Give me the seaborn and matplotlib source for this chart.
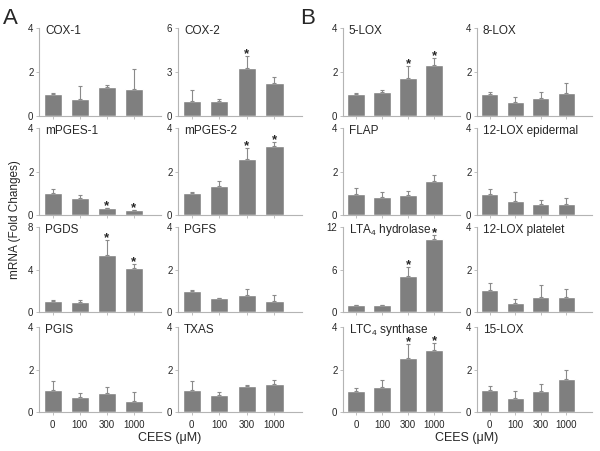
import numpy as np
import pandas as pd
import matplotlib
matplotlib.use("Agg")
import matplotlib.pyplot as plt
import seaborn as sns

# doses on the x axis
doses = ["0", "100", "300", "1000"]

# panel A
cox1 = [1.00, 0.75, 1.32, 1.23]
cox1_err = [0.03, 0.63, 0.10, 0.91]
cox2 = [1.01, 1.01, 3.29, 2.25]
cox2_err = [0.79, 0.12, 0.81, 0.41]
mpges1 = [1.01, 0.78, 0.31, 0.23]
mpges1_err = [0.20, 0.15, 0.03, 0.02]
mpges2 = [1.01, 1.35, 2.57, 3.17]
mpges2_err = [0.06, 0.23, 0.50, 0.17]
pgds = [1.04, 0.94, 5.40, 4.10]
pgds_err = [0.09, 0.19, 1.40, 0.42]
pgfs = [1.01, 0.67, 0.81, 0.53]
pgfs_err = [0.04, 0.01, 0.28, 0.28]
pgis = [1.02, 0.71, 0.90, 0.54]
pgis_err = [0.44, 0.19, 0.26, 0.42]
txas = [1.02, 0.79, 1.22, 1.30]
txas_err = [0.44, 0.16, 0.04, 0.20]

# panel B
lox5 = [0.99, 1.10, 1.74, 2.32]
lox5_err = [0.06, 0.10, 0.54, 0.33]
lox8 = [0.99, 0.64, 0.82, 1.05]
lox8_err = [0.12, 0.23, 0.29, 0.45]
flap = [0.98, 0.82, 0.93, 1.56]
flap_err = [0.26, 0.24, 0.19, 0.29]
lox12e = [0.98, 0.65, 0.51, 0.51]
lox12e_err = [0.23, 0.40, 0.19, 0.27]
lta4h = [0.95, 1.00, 5.10, 10.30]
lta4h_err = [0.09, 0.05, 1.20, 0.57]
lox12p = [1.02, 0.44, 0.72, 0.69]
lox12p_err = [0.34, 0.15, 0.56, 0.37]
ltc4s = [0.99, 1.18, 2.52, 2.94]
ltc4s_err = [0.14, 0.32, 0.66, 0.32]
lox15 = [1.04, 0.68, 1.00, 1.57]
lox15_err = [0.17, 0.32, 0.31, 0.43]

# (name, values, errors, ymax, significant bars)
panels = [
    [("COX-1", cox1, cox1_err, 4, []), ("COX-2", cox2, cox2_err, 6, [2]),
     ("5-LOX", lox5, lox5_err, 4, [2, 3]), ("8-LOX", lox8, lox8_err, 4, [])],
    [("mPGES-1", mpges1, mpges1_err, 4, [2, 3]), ("mPGES-2", mpges2, mpges2_err, 4, [2, 3]),
     ("FLAP", flap, flap_err, 4, []), ("12-LOX epidermal", lox12e, lox12e_err, 4, [])],
    [("PGDS", pgds, pgds_err, 8, [2, 3]), ("PGFS", pgfs, pgfs_err, 4, []),
     ("LTA$_4$ hydrolase", lta4h, lta4h_err, 12, [2, 3]), ("12-LOX platelet", lox12p, lox12p_err, 4, [])],
    [("PGIS", pgis, pgis_err, 4, []), ("TXAS", txas, txas_err, 4, []),
     ("LTC$_4$ synthase", ltc4s, ltc4s_err, 4, [2, 3]), ("15-LOX", lox15, lox15_err, 4, [])],
]

sns.set_style("white")
plt.rcParams["font.family"] = ["Liberation Sans", "DejaVu Sans"]
plt.rcParams["mathtext.fontset"] = "custom"
plt.rcParams["mathtext.rm"] = "Liberation Sans"
plt.rcParams["mathtext.it"] = "Liberation Sans"

W, H = 600, 451
fig = plt.figure(figsize=(6, 4.51), dpi=100)

col_x = [(39, 161), (178, 302), (343, 460), (477, 592)]
row_y = [(28, 116), (128, 215), (227, 312), (327, 412)]
bar_color = "#7f7f7f"
line_color = "#b4b4b4"

for r, row in enumerate(panels):
    for c, (name, vals, errs, ymax, sig) in enumerate(row):
        x0, x1 = col_x[c]
        y0, y1 = row_y[r]
        ax = fig.add_axes([x0 / W, 1 - y1 / H, (x1 - x0) / W, (y1 - y0) / H])
        df = pd.DataFrame({"dose": doses, "value": vals})
        sns.barplot(data=df, x="dose", y="value", color=bar_color, width=0.66,
                    saturation=1, errorbar=None, ax=ax)
        pos = np.arange(len(doses))
        ax.errorbar(pos, vals, yerr=[np.zeros(len(errs)), errs], fmt="none",
                    ecolor="#8a8a8a", elinewidth=0.8, capsize=1.5, capthick=0.8)
        for i in sig:
            # asterisk glyph sits high in its box, pull it down to the bar
            ax.annotate("*", (pos[i], vals[i] + errs[i]), xytext=(0, -3),
                        textcoords="offset points", ha="center", va="bottom",
                        fontsize=9.5, fontweight="bold")
        ax.set_xlim(-0.5, 4.0)
        ax.set_ylim(0, ymax)
        ax.set_yticks([0, ymax / 2, ymax])
        ax.set_yticklabels([str(int(t)) for t in [0, ymax / 2, ymax]])
        ax.set_xlabel("")
        ax.set_ylabel("")
        for s in ["top", "right"]:
            ax.spines[s].set_visible(False)
        for s in ["left", "bottom"]:
            ax.spines[s].set_color(line_color)
            ax.spines[s].set_linewidth(0.8)
        ax.tick_params(axis="y", length=2, width=0.6, color=line_color,
                       labelsize=7, pad=2, left=True)
        ax.tick_params(axis="x", length=2, width=0.6, color=line_color,
                       labelsize=7, pad=4, bottom=True)
        if r < 3:
            ax.set_xticklabels([])
        ax.text(0.05, 1 - 3 / (y1 - y0), name, transform=ax.transAxes,
                ha="left", va="center", fontsize=8.5)
        ax.patch.set_alpha(0)

fig.text(15 / W, 1 - 220 / H, "mRNA (Fold Changes)", rotation=90,
         ha="center", va="center", fontsize=8.5)
fig.text(170 / W, 1 - 438 / H, "CEES (\u03bcM)", ha="center", va="center", fontsize=9)
fig.text(467 / W, 1 - 438 / H, "CEES (\u03bcM)", ha="center", va="center", fontsize=9)
fig.text(3 / W, 1 - 18 / H, "A", ha="left", va="center", fontsize=16)
fig.text(300 / W, 1 - 18 / H, "B", ha="left", va="center", fontsize=16)

fig.savefig("out.png", dpi=100)
